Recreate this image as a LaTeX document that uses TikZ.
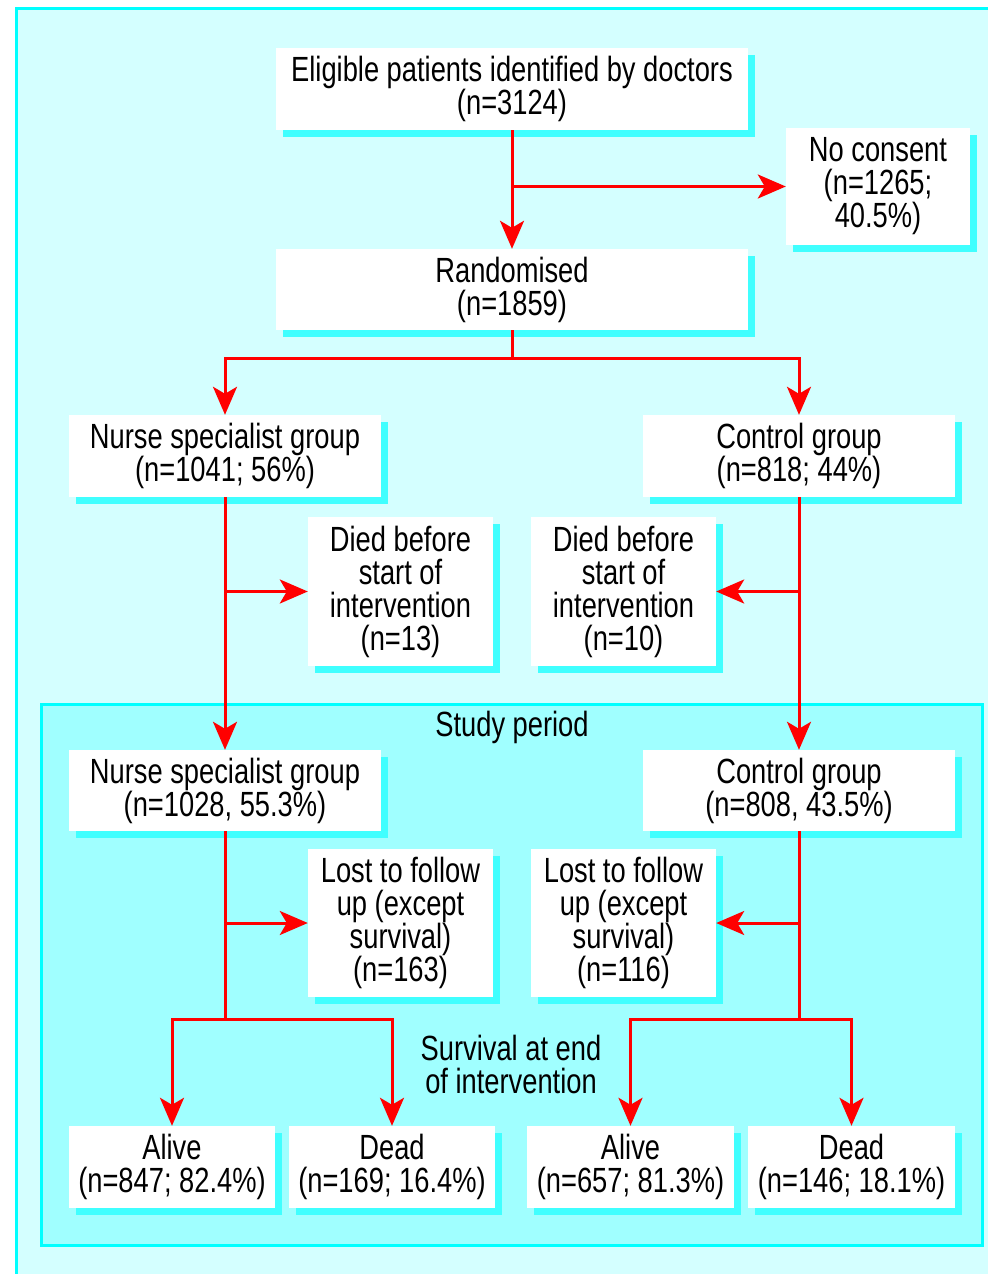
\documentclass[tikz,border=0pt]{standalone}
\usepackage{fontspec}
\setmainfont{Liberation Sans}[FakeStretch=0.78]
\usetikzlibrary{arrows.meta,shadows}
\definecolor{bgout}{RGB}{212,255,255}
\definecolor{bgin}{RGB}{160,255,255}
\definecolor{frame}{RGB}{0,255,255}
\definecolor{shade}{RGB}{64,255,255}
\definecolor{flow}{RGB}{255,0,0}
\tikzset{
  box/.style={draw=none, fill=white, inner sep=0pt, align=center,
    font=\fontsize{35}{33}\selectfont,
    drop shadow={shadow xshift=7pt, shadow yshift=-7pt, fill=shade, opacity=1}},
  lbl/.style={inner sep=0pt, align=center, font=\fontsize{35}{33}\selectfont},
  link/.style={draw=flow, line width=3pt},
  arr/.style={link, -{Stealth[length=28pt,width=24pt,inset=7pt]}},
}
\begin{document}
\begin{tikzpicture}[x=1pt,y=-1pt]
\useasboundingbox (0,0) rectangle (988,1274);
\fill[white] (0,0) rectangle (988,1274);
\fill[bgout] (16,8) rectangle (988,1274);
\draw[frame, line width=3pt] (16,1274) -- (16,8) -- (988,8);
\draw[frame, line width=3pt, fill=bgin] (41,704) rectangle (982,1245);

\node[box, minimum width=472pt, minimum height=82pt] (elig) at (512,89) {Eligible patients identified by doctors\\(n=3124)};
\node[box, minimum width=184pt, minimum height=117pt] (nocons) at (878,186.5) {No consent\\(n=1265;\\40.5\%)};
\node[box, minimum width=472pt, minimum height=81pt] (rand) at (512,289.5) {Randomised\\(n=1859)};
\node[box, minimum width=312pt, minimum height=82pt] (nurse1) at (225,456) {Nurse specialist group\\(n=1041; 56\%)};
\node[box, minimum width=312pt, minimum height=82pt] (ctrl1) at (799,456) {Control group\\(n=818; 44\%)};
\node[box, minimum width=185pt, minimum height=149pt] (died1) at (400.5,591.5) {Died before\\start of\\intervention\\(n=13)};
\node[box, minimum width=185pt, minimum height=149pt] (died2) at (623.5,591.5) {Died before\\start of\\intervention\\(n=10)};
\node[lbl] (study) at (512,727) {Study period};
\node[box, minimum width=312pt, minimum height=81pt] (nurse2) at (225,790.5) {Nurse specialist group\\(n=1028, 55.3\%)};
\node[box, minimum width=312pt, minimum height=81pt] (ctrl2) at (799,790.5) {Control group\\(n=808, 43.5\%)};
\node[box, minimum width=185pt, minimum height=148pt] (lost1) at (400.5,923) {Lost to follow\\up (except\\survival)\\(n=163)};
\node[box, minimum width=185pt, minimum height=148pt] (lost2) at (623.5,923) {Lost to follow\\up (except\\survival)\\(n=116)};
\node[lbl] (surv) at (511,1064) {Survival at end\\of intervention};
\node[box, minimum width=206pt, minimum height=82pt] (alive1) at (172,1167) {Alive\\(n=847; 82.4\%)};
\node[box, minimum width=206pt, minimum height=82pt] (dead1) at (392,1167) {Dead\\(n=169; 16.4\%)};
\node[box, minimum width=207pt, minimum height=82pt] (alive2) at (630.5,1167) {Alive\\(n=657; 81.3\%)};
\node[box, minimum width=207pt, minimum height=82pt] (dead2) at (851.5,1167) {Dead\\(n=146; 18.1\%)};

\draw[arr] (elig.south) -- (rand.north);
\draw[arr] (elig.south |- nocons.west) -- (nocons.west);
\draw[arr] (rand.south) -- ++(0,28) -| (nurse1.north);
\draw[arr] (rand.south) -- ++(0,28) -| (ctrl1.north);
\draw[arr] (nurse1.south) -- (nurse2.north);
\draw[arr] (nurse1.south |- died1.west) -- (died1.west);
\draw[arr] (ctrl1.south) -- (ctrl2.north);
\draw[arr] (ctrl1.south |- died2.east) -- (died2.east);
\draw[link] (nurse2.south) -- ++(0,188) coordinate (nsplit);
\draw[arr] (nsplit) -| (alive1.north);
\draw[arr] (nsplit) -| (dead1.north);
\draw[arr] (nurse2.south |- lost1.west) -- (lost1.west);
\draw[link] (ctrl2.south) -- ++(0,188) coordinate (csplit);
\draw[arr] (csplit) -| (alive2.north);
\draw[arr] (csplit) -| (dead2.north);
\draw[arr] (ctrl2.south |- lost2.east) -- (lost2.east);
\end{tikzpicture}
\end{document}
